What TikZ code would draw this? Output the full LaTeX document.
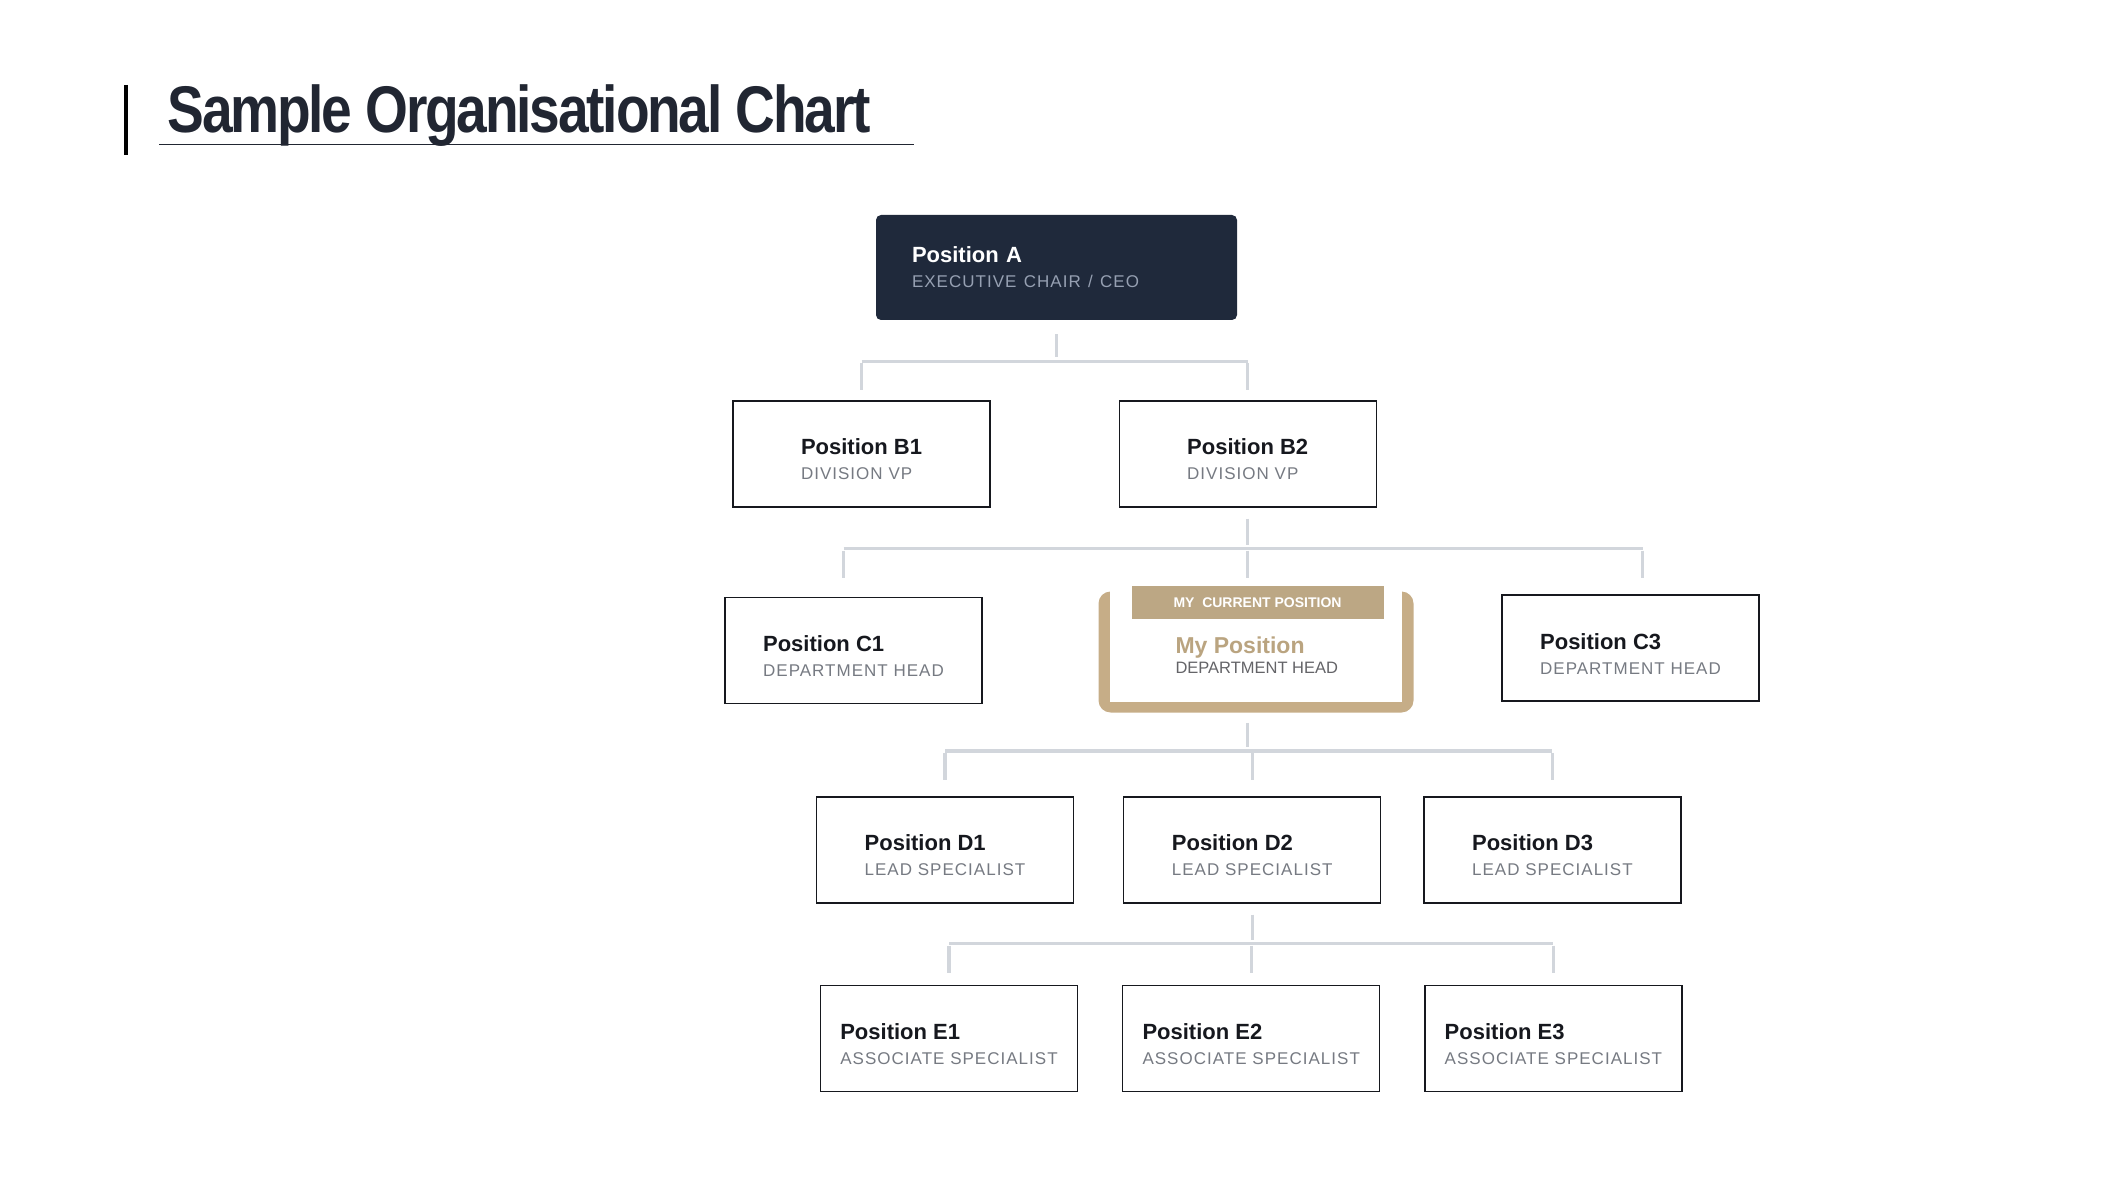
\documentclass[tikz,border=0pt]{standalone}
\usepackage{fontspec}
\usepackage{graphicx}
\setmainfont{Liberation Sans}
\newfontfamily\rolefont{Liberation Sans}[LetterSpace=6]
\newfontfamily\headfont{Liberation Sans}[LetterSpace=-4]
\usepackage{tikz}
\usetikzlibrary{
    positioning,
    calc
}
\definecolor{Cnavy}{RGB}{31, 41, 59}
\definecolor{Cink}{RGB}{22, 24, 30}
\definecolor{Crole}{RGB}{118, 122, 130}
\definecolor{Cceo}{RGB}{150, 160, 178}
\definecolor{Cgold}{RGB}{198, 173, 135}
\definecolor{Ctag}{RGB}{188, 167, 132}
\definecolor{Cgoldtxt}{RGB}{186, 164, 128}
\definecolor{Cdept}{RGB}{100, 100, 104}
\definecolor{Cline}{RGB}{210, 214, 220}
\definecolor{Ctitle}{RGB}{33, 38, 50}
\newcommand{\roleline}{\rolefont\fontsize{8.5}{12.5}\selectfont}
\newcommand{\posline}{\rule{0pt}{13.5pt}\bfseries}
\tikzset{
    orgtop/.style={
        rectangle, rounded corners=2.5pt, fill=Cnavy, text=white,
        minimum height=52.5pt, text width=144.5pt, inner xsep=18pt,
        inner ysep=0pt, align=left, font=\fontsize{11}{12.5}\selectfont
    },
    orgbox/.style={
        rectangle, draw=Cink, line width=0.6pt, fill=white, text=Cink,
        minimum width=128.5pt, minimum height=53pt, inner sep=0pt,
        align=left, font=\fontsize{11}{12.5}\selectfont
    },
    orgmine/.style={
        rectangle, rounded corners=6pt, fill=Cgold,
        minimum width=157.5pt, minimum height=60.5pt, inner sep=0pt
    },
    orgtag/.style={
        rectangle, fill=Ctag, text=white, minimum width=126pt,
        minimum height=16.5pt, inner sep=0pt,
        font=\bfseries\fontsize{7}{8}\selectfont
    },
    orglink/.style={draw=Cline, line width=1.6pt},
}

\begin{document}
\begin{tikzpicture}[x=0.5pt, y=0.5pt]
    \useasboundingbox (0,0) rectangle (2110,-1187);

    % ── heading ──────────────────────────────────────────
    \draw [line width=2.4pt, black] (126,-85) -- (126,-155);
    \node [anchor=base west, inner sep=0pt, text=Ctitle] (title) at (167,-133)
        {\scalebox{0.835}[1]{\headfont\bfseries\fontsize{33}{36}\selectfont Sample Organisational Chart}};
    \draw [line width=0.5pt, Ctitle] (159,-145) -- (914,-145);

    % ── position nodes ───────────────────────────────────
    \node [orgtop] (a) at (1056.5,-267.5)
        {{\bfseries Position A}\\{\roleline\color{Cceo}EXECUTIVE CHAIR / CEO}};

    \node [orgbox] (b1) at (861.5,-454)
        {{\posline Position B1}\\{\roleline\color{Crole}DIVISION VP}};
    \node [orgbox, right=64pt of b1] (b2)
        {{\posline Position B2}\\{\roleline\color{Crole}DIVISION VP}};

    \node [orgbox] (c1) at (853.5,-650.5)
        {{\posline Position C1}\\{\roleline\color{Crole}DEPARTMENT HEAD}};
    \node [orgmine] (my) at (1256,-652) {};
    \fill [white] ($(my.north west)+(12,12)$) rectangle ($(my.south east)+(-12,11)$);
    \node [orgtag] (tag) at ($(my.north)+(1.5,-11.5)$) {MY~ CURRENT POSITION};
    \node [anchor=west, inner sep=0pt, align=left, font=\fontsize{11.5}{10}\selectfont]
        (mytext) at ($(my.west)+(77,-3)$)
        {{\bfseries\color{Cgoldtxt}My Position}\\{\fontsize{8.25}{10}\selectfont\color{Cdept}DEPARTMENT HEAD}};
    \node [orgbox] (c3) at (1630.5,-648)
        {{\posline Position C3}\\{\roleline\color{Crole}DEPARTMENT HEAD}};

    \node [orgbox] (d1) at (945,-850)
        {{\posline Position D1}\\{\roleline\color{Crole}LEAD SPECIALIST}};
    \node [orgbox, right=24.5pt of d1] (d2)
        {{\posline Position D2}\\{\roleline\color{Crole}LEAD SPECIALIST}};
    \node [orgbox, right=21pt of d2] (d3)
        {{\posline Position D3}\\{\roleline\color{Crole}LEAD SPECIALIST}};

    \node [orgbox, below=40.5pt of d1, xshift=2pt] (e1)
        {{\posline Position E1}\\{\roleline\color{Crole}ASSOCIATE SPECIALIST}};
    \node [orgbox, right=22pt of e1] (e2)
        {{\posline Position E2}\\{\roleline\color{Crole}ASSOCIATE SPECIALIST}};
    \node [orgbox, right=22pt of e2] (e3)
        {{\posline Position E3}\\{\roleline\color{Crole}ASSOCIATE SPECIALIST}};

    % ── connectors ───────────────────────────────────────
    \coordinate (jab) at ($(a.south)+(0,-41)$);
    \draw [orglink] ($(a.south)+(0,-14)$) -- ($(jab)+(0,4)$);
    \draw [orglink] (jab -| b1) -- (jab -| b2);
    \foreach \n in {b1,b2}
        \draw [orglink] ($(jab -| \n)+(0,-2)$) -- ++(0,-27);

    \coordinate (jbc) at ($(b2.south)+(0,-41)$);
    \coordinate (jc1) at ($(jbc -| c1)+(-10,0)$);
    \coordinate (jc3) at ($(jbc -| c3)+(12,0)$);
    \draw [orglink] ($(b2.south)+(0,-11)$) -- ($(jbc)+(0,4)$);
    \draw [orglink] (jc1) -- (jc3);
    \foreach \n in {jc1,jbc,jc3}
        \draw [orglink] ($(\n)+(0,-2)$) -- ++(0,-27);

    \coordinate (jmd) at ($(my.south -| jbc)+(0,-38)$);
    \draw [orglink] ($(my.south -| jbc)+(0,-10)$) -- ($(jmd)+(0,4)$);
    \draw [orglink] (jmd -| d1) -- (jmd -| d3);
    \foreach \n in {d1,d2,d3}
        \draw [orglink] ($(jmd -| \n)+(0,-2)$) -- ++(0,-27);

    \coordinate (jde) at ($(d2.south)+(0,-40)$);
    \draw [orglink] ($(d2.south)+(0,-11)$) -- ($(jde)+(0,4)$);
    \draw [orglink] (jde -| e1) -- (jde -| e3);
    \foreach \n in {e1,e2,e3}
        \draw [orglink] ($(jde -| \n)+(0,-2)$) -- ++(0,-27);

\end{tikzpicture}
\end{document}
